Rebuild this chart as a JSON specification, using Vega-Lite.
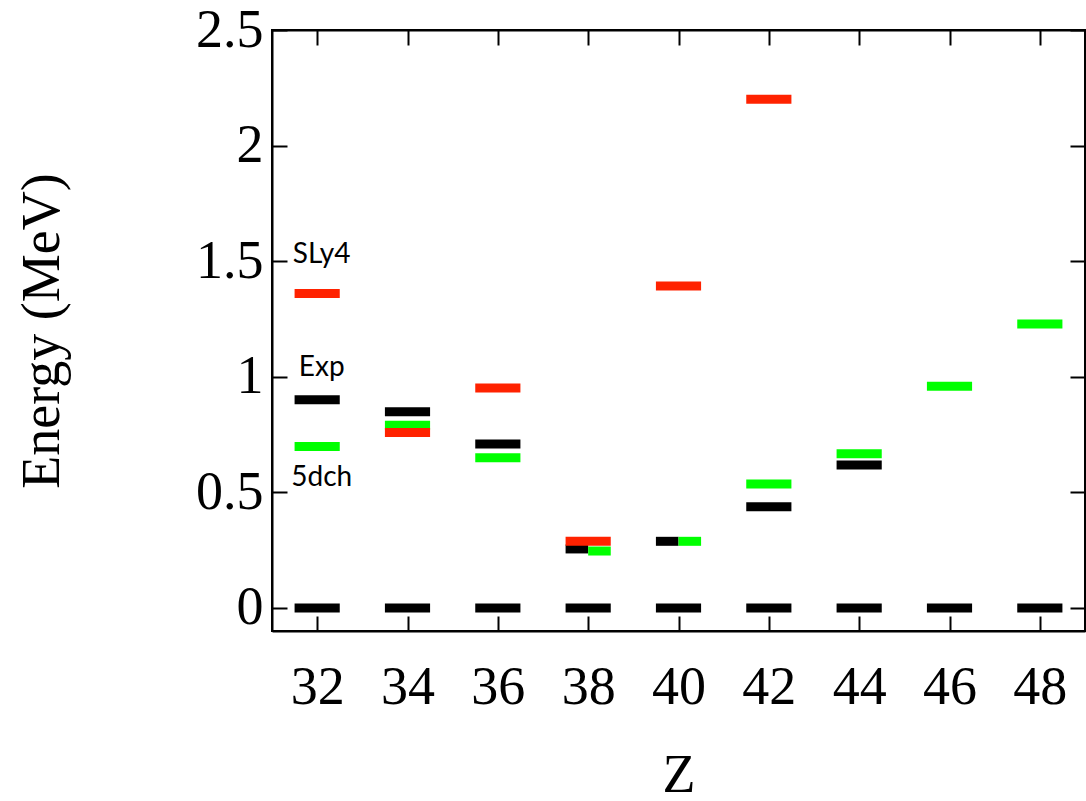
{
  "$schema": "https://vega.github.io/schema/vega-lite/v6.json",
  "width": 813,
  "height": 601,
  "autosize": "none",
  "padding": {"left": 272, "top": 30, "right": 1, "bottom": 170},
  "background": "white",
  "config": {
    "view": {"stroke": "black", "strokeWidth": 2},
    "axis": {
      "grid": false,
      "domainColor": "black",
      "domainWidth": 2,
      "tickColor": "black",
      "tickWidth": 2,
      "tickSize": -15,
      "labelColor": "black",
      "labelFont": "Liberation Serif",
      "labelFontSize": 54,
      "titleColor": "black",
      "titleFont": "Liberation Serif",
      "titleFontSize": 54,
      "titleFontWeight": "normal"
    }
  },
  "datasets": {
    "levels": [
      {"Z": 32, "E": 0, "set": "Exp", "part": "full"},
      {"Z": 34, "E": 0, "set": "Exp", "part": "full"},
      {"Z": 36, "E": 0, "set": "Exp", "part": "full"},
      {"Z": 38, "E": 0, "set": "Exp", "part": "full"},
      {"Z": 40, "E": 0, "set": "Exp", "part": "full"},
      {"Z": 42, "E": 0, "set": "Exp", "part": "full"},
      {"Z": 44, "E": 0, "set": "Exp", "part": "full"},
      {"Z": 46, "E": 0, "set": "Exp", "part": "full"},
      {"Z": 48, "E": 0, "set": "Exp", "part": "full"},
      {"Z": 32, "E": 0.9, "set": "Exp", "part": "full"},
      {"Z": 34, "E": 0.848, "set": "Exp", "part": "full"},
      {"Z": 36, "E": 0.709, "set": "Exp", "part": "full"},
      {"Z": 38, "E": 0.255, "set": "Exp", "part": "left"},
      {"Z": 40, "E": 0.288, "set": "Exp", "part": "left"},
      {"Z": 42, "E": 0.437, "set": "Exp", "part": "full"},
      {"Z": 44, "E": 0.618, "set": "Exp", "part": "full"},
      {"Z": 32, "E": 0.698, "set": "5dch", "part": "full"},
      {"Z": 34, "E": 0.79, "set": "5dch", "part": "full"},
      {"Z": 36, "E": 0.65, "set": "5dch", "part": "full"},
      {"Z": 38, "E": 0.246, "set": "5dch", "part": "right"},
      {"Z": 40, "E": 0.288, "set": "5dch", "part": "right"},
      {"Z": 42, "E": 0.536, "set": "5dch", "part": "full"},
      {"Z": 44, "E": 0.667, "set": "5dch", "part": "full"},
      {"Z": 46, "E": 0.959, "set": "5dch", "part": "full"},
      {"Z": 48, "E": 1.228, "set": "5dch", "part": "full"},
      {"Z": 32, "E": 1.36, "set": "SLy4", "part": "full"},
      {"Z": 34, "E": 0.759, "set": "SLy4", "part": "full"},
      {"Z": 36, "E": 0.951, "set": "SLy4", "part": "full"},
      {"Z": 38, "E": 0.288, "set": "SLy4", "part": "full"},
      {"Z": 40, "E": 1.393, "set": "SLy4", "part": "full"},
      {"Z": 42, "E": 2.2, "set": "SLy4", "part": "full"}
    ],
    "names": [
      {"Z": 32.1, "E": 1.492, "label": "SLy4"},
      {"Z": 32.1, "E": 1.003, "label": "Exp"},
      {"Z": 32.1, "E": 0.528, "label": "5dch"}
    ]
  },
  "layer": [
    {
      "data": {"name": "levels"},
      "transform": [
        {"calculate": "datum.part === 'right' ? datum.Z : datum.Z - 0.5", "as": "lo"},
        {"calculate": "datum.part === 'left' ? datum.Z : datum.Z + 0.5", "as": "hi"}
      ],
      "mark": {"type": "rule", "strokeWidth": 9, "strokeCap": "butt"},
      "encoding": {
        "x": {
          "field": "lo", "type": "quantitative",
          "scale": {"domain": [31, 49], "nice": false, "zero": false},
          "axis": {"orient": "bottom", "values": [32, 34, 36, 38, 40, 42, 44, 46, 48], "labelPadding": 44, "title": "Z", "titlePadding": 34, "labelFlush": false}
        },
        "x2": {"field": "hi"},
        "y": {
          "field": "E", "type": "quantitative",
          "scale": {"domain": [-0.1, 2.5], "nice": false, "zero": false},
          "axis": {"orient": "left", "values": [0, 0.5, 1, 1.5, 2, 2.5], "labelExpr": "'' + datum.value", "labelPadding": 24, "title": "Energy (MeV)", "titlePadding": 126, "labelFlush": false}
        },
        "color": {
          "field": "set", "type": "nominal",
          "scale": {"domain": ["Exp", "5dch", "SLy4"], "range": ["#000000", "#00ff00", "#ff2200"]},
          "legend": null
        }
      }
    },
    {
      "data": {"name": "names"},
      "mark": {"type": "text", "font": "Lato", "fontSize": 28, "align": "center", "baseline": "alphabetic", "color": "black"},
      "encoding": {
        "x": {"field": "Z", "type": "quantitative", "axis": null},
        "y": {"field": "E", "type": "quantitative", "axis": null},
        "text": {"field": "label"}
      }
    },
    {
      "data": {"name": "levels"},
      "mark": {"type": "point", "opacity": 0},
      "encoding": {
        "x": {"field": "Z", "type": "quantitative", "axis": {"orient": "top", "values": [32, 34, 36, 38, 40, 42, 44, 46, 48], "labels": false, "title": null}},
        "y": {"field": "E", "type": "quantitative", "axis": {"orient": "right", "values": [0, 0.5, 1, 1.5, 2, 2.5], "labels": false, "title": null}}
      }
    }
  ],
  "resolve": {"axis": {"x": "independent", "y": "independent"}}
}
